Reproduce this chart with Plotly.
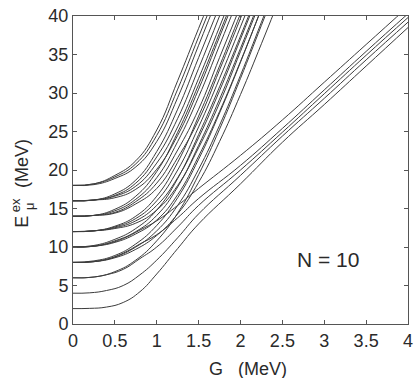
import plotly.graph_objects as go

# G grid (MeV) for the steep (upper) family of levels
G_UP = [0, 0.25, 0.5, 0.75, 1.0, 1.25, 1.5, 1.75, 2.0, 2.25, 2.5]
# G grid for the linear (lower) family
G_LIN = [0, 0.2, 0.4, 0.6, 0.8, 1.0, 1.25, 1.5, 2.0, 2.5, 3.0, 3.5, 4.0]

# steep family, grouped by unperturbed excitation energy (MeV)
up18_a = [18, 18.2, 19.3, 21.2, 25.2, 31.6, 38.4, 45.1]
up18_b = [18, 18.2, 19.1, 20.8, 24.5, 30.5, 37.3, 44.0]
up18_c = [18, 18.1, 18.9, 20.4, 23.7, 29.4, 36.2, 43.0]
up16_a = [16, 16.1, 16.9, 18.7, 22.4, 27.9, 34.6, 41.3]
up16_b = [16, 16.1, 16.7, 18.3, 21.7, 26.7, 33.2, 40.0]
up16_c = [16, 16.1, 16.6, 17.9, 20.9, 25.6, 31.9, 38.6, 45.4]
up16_d = [16, 16.1, 16.4, 17.5, 20.1, 24.5, 30.5, 37.3, 44.0]
up14_a = [14, 14.1, 14.9, 16.6, 19.8, 24.9, 31.1, 37.8, 44.6]
up14_b = [14, 14.1, 14.7, 16.2, 19.0, 23.7, 29.5, 36.2, 43.0]
up14_c = [14, 14.1, 14.5, 15.9, 18.3, 22.6, 27.9, 34.6, 41.3]
up14_d = [14, 14.1, 14.4, 15.6, 17.6, 21.6, 26.5, 33.0, 39.7, 46.5]
up12_a = [12, 12.1, 12.7, 14.0, 16.6, 21.0, 27.0, 33.5, 40.3, 47.0]
up12_b = [12, 12.1, 12.6, 13.7, 16.0, 20.0, 25.6, 31.9, 38.6, 45.4]
up12_c = [12, 12.1, 12.5, 13.4, 15.4, 19.0, 24.2, 30.3, 37.0, 43.8]
up12_d = [12, 12.1, 12.4, 13.1, 14.8, 18.0, 22.9, 28.7, 35.4, 42.2]
up10_a = [10, 10.2, 11.0, 12.4, 14.8, 18.9, 24.6, 30.8, 37.4, 44.2]
up10_b = [10, 10.1, 10.8, 12.0, 14.1, 17.8, 23.2, 29.2, 35.8, 42.6]
up10_c = [10, 10.1, 10.6, 11.7, 13.5, 16.8, 21.8, 27.6, 34.1, 40.9, 47.7]
up8_a = [8, 8.2, 8.9, 10.4, 12.8, 16.4, 21.4, 27.4, 34.0, 41.0]
up8_b = [8, 8.1, 8.7, 10.0, 12.1, 15.4, 20.1, 25.8, 32.3, 39.2, 46.2]
up8_c = [8, 8.1, 8.6, 9.7, 11.5, 14.3, 18.4, 23.7, 29.8, 36.4, 43.2]
up6_a = [6, 6.1, 6.8, 8.3, 10.8, 14.4, 19.4, 25.3, 31.9, 38.8, 45.8]

# linear family
lin2 = [2.0, 2.03, 2.2, 2.8, 4.2, 6.5, 9.8, 13.0, 18.2, 23.6, 28.5, 33.5, 38.5]
lin4 = [4.0, 4.05, 4.35, 5.0, 6.4, 8.3, 11.2, 14.3, 19.3, 24.4, 29.3, 34.3, 39.2]
lin6 = [6.0, 6.05, 6.4, 7.1, 8.5, 10.0, 12.6, 15.4, 20.0, 24.9, 29.9, 34.9, 39.8]
lin8 = [8.0, 8.05, 8.4, 9.2, 10.4, 11.6, 13.8, 16.3, 20.6, 25.4, 30.4, 35.4, 40.3]
lin10 = [10.0, 10.05, 10.4, 11.1, 12.2, 13.4, 15.4, 17.6, 21.9, 26.5, 31.4, 36.3, 41.2]

X_TICKS = [0, 0.5, 1, 1.5, 2, 2.5, 3, 3.5, 4]
X_TICKTEXT = ["0", "0.5", "1", "1.5", "2", "2.5", "3", "3.5", "4"]
Y_TICKS = [0, 5, 10, 15, 20, 25, 30, 35, 40]

upper = [up18_a, up18_b, up18_c, up16_a, up16_b, up16_c, up16_d,
         up14_a, up14_b, up14_c, up14_d, up12_a, up12_b, up12_c, up12_d,
         up10_a, up10_b, up10_c, up8_a, up8_b, up8_c, up6_a]
lower = [lin2, lin4, lin6, lin8, lin10]

LINE_COLOR = "#3c3c3c"
TEXT_COLOR = "#2a2a2a"
FONT = "Liberation Sans, Arial, sans-serif"

fig = go.Figure()
for ys in upper:
    fig.add_trace(go.Scatter(x=G_UP[:len(ys)], y=ys, mode="lines",
                             line=dict(color=LINE_COLOR, width=1, shape="spline", smoothing=1.3),
                             hoverinfo="skip", showlegend=False, cliponaxis=True))
for ys in lower:
    fig.add_trace(go.Scatter(x=G_LIN[:len(ys)], y=ys, mode="lines",
                             line=dict(color=LINE_COLOR, width=1, shape="spline", smoothing=1.3),
                             hoverinfo="skip", showlegend=False, cliponaxis=True))

L, R, T, B = 73, 6, 10, 54
W, H = 419, 378
pw, ph = W - L - R, H - T - B

fig.update_layout(
    width=W, height=H,
    margin=dict(l=L, r=R, t=T, b=B, pad=0),
    paper_bgcolor="white", plot_bgcolor="white",
    font=dict(family=FONT, size=18, color=TEXT_COLOR),
    showlegend=False,
)
fig.update_xaxes(range=[0, 4], tickvals=X_TICKS, ticktext=X_TICKTEXT,
                 showgrid=False, zeroline=False, showline=True, linecolor="#555555",
                 linewidth=1, mirror="ticks", ticks="inside", ticklen=4,
                 tickcolor="#555555", tickfont=dict(size=18, color=TEXT_COLOR))
fig.update_yaxes(range=[0, 40], tickvals=Y_TICKS,
                 showgrid=False, zeroline=False, showline=True, linecolor="#555555",
                 linewidth=1, mirror="ticks", ticks="inside", ticklen=4,
                 tickcolor="#555555", tickfont=dict(size=18, color=TEXT_COLOR))

def px(xp):
    return (xp - L) / pw

def py(yp):
    return (H - B - yp) / ph

def note(x, y, text, size, angle=0):
    fig.add_annotation(x=px(x), y=py(y), xref="paper", yref="paper", text=text,
                       showarrow=False, textangle=angle, xanchor="center",
                       yanchor="middle", font=dict(size=size, color=TEXT_COLOR))

# x-axis title
note(251, 370, "G   (MeV)", 18)
# y-axis title: E with stacked superscript "ex" and subscript "μ"
note(21, 220, "E", 18, -90)
note(14, 203, "ex", 13, -90)
note(29, 204, "μ", 13, -90)
note(21, 160, "(MeV)", 18, -90)

fig.add_annotation(x=3.05, y=8.4, xref="x", yref="y",
                   text="N = 10", showarrow=False, xanchor="center", yanchor="middle",
                   font=dict(size=21, color=TEXT_COLOR))

fig.write_html("out.html")
